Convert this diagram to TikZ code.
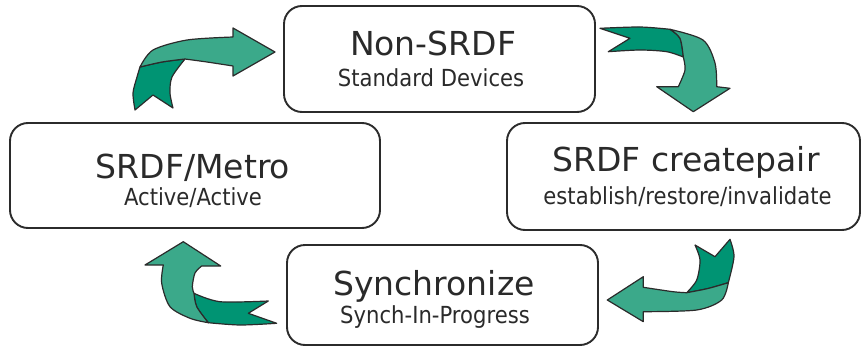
\documentclass[tikz,border=0pt]{standalone}
\usepackage{fontspec}
\setmainfont{DejaVu Sans}
\newfontfamily\subfont[FakeStretch=0.9]{DejaVu Sans}
\definecolor{boxline}{HTML}{2B2B2B}
\definecolor{txt}{HTML}{2A2A2A}
\definecolor{glight}{HTML}{3BA98A}
\definecolor{gdark}{HTML}{009473}
\tikzset{
  statebox/.style={draw=boxline, line width=1.9pt, rounded corners=18pt, fill=white, inner sep=0pt},
  ttl/.style={anchor=base, text=txt, font=\fontsize{33}{36}\selectfont, inner sep=0pt},
  sub/.style={anchor=base, text=txt, font=\subfont\fontsize{23.5}{26}\selectfont, inner sep=0pt},
  lightpart/.style={fill=glight, draw=boxline, line width=1.2pt, line join=round},
  darkpart/.style={fill=gdark, draw=boxline, line width=1.2pt, line join=round}
}
\begin{document}
\begin{tikzpicture}[x=1pt, y=-1pt]
\useasboundingbox (0,0) rectangle (862,348);
% boxes
\draw[statebox] (284,6) rectangle (595,112);
\draw[statebox] (10,123) rectangle (380,228);
\draw[statebox] (507,123) rectangle (860,230);
\draw[statebox] (287,245) rectangle (598,345);
% texts
\node[ttl] (t1) at (433,55.7) {Non-SRDF};
\node[sub] (s1) at (431,86.7) {Standard Devices};
\node[ttl] (t2) at (193,178.3) {SRDF/Metro};
\node[sub] (s2) at (193,205.7) {Active/Active};
\node[ttl] (t3) at (686,171.7) {SRDF createpair};
\node[sub] (s3) at (687.5,204.3) {establish/restore/invalidate};
\node[ttl] (t4) at (434,295) {Synchronize};
\node[sub] (s4) at (435,323.3) {Synch-In-Progress};
% arrow 1 (top left)
\draw[darkpart] (140,67) -- plot[smooth] coordinates {(140,67) (162,62) (185,59)}
  -- plot[smooth] coordinates {(185,59) (172,77) (170,93) (173,108)}
  -- (153,95) -- (135,110)
  -- plot[smooth] coordinates {(135,110) (133,93) (137,77) (140,67)} -- cycle;
\draw[lightpart] (140,67) -- plot[smooth] coordinates {(140,67) (153,50) (187,40) (233,37)}
  -- (233,28) -- (275,52) -- (233,76) -- (233,66)
  -- plot[smooth] coordinates {(233,66) (207,62) (185,59)}
  -- plot[smooth] coordinates {(185,59) (162,62) (140,67)} -- cycle;
% arrow 2 (top right)
\draw[darkpart] (600,28.3) -- plot[smooth] coordinates {(600,28.3) (640,27) (670,29.3)}
  -- plot[smooth] coordinates {(670,29.3) (680,38.3) (683.3,57)}
  -- plot[smooth] coordinates {(683.3,57) (666.7,51.7) (640,50) (608.3,51.7)}
  -- (630,38.3) -- cycle;
\draw[lightpart] (670,29.3) -- plot[smooth] coordinates {(670,29.3) (703,40) (715,63) (716.7,86.7)}
  -- (730,88.3) -- (693.3,111.7) -- (656.7,86.7) -- (678.3,86.7)
  -- plot[smooth] coordinates {(678.3,86.7) (685,70) (683.3,57)}
  -- plot[smooth] coordinates {(683.3,57) (680,38.3) (670,29.3)} -- cycle;
% arrow 3 (bottom right)
\draw[darkpart] (686.7,292.7) -- plot[smooth] coordinates {(686.7,292.7) (708,288.5) (728.3,282.7)}
  -- plot[smooth] coordinates {(728.3,282.7) (734,256.7) (730,239.3)}
  -- (715,256.7) -- (695,245)
  -- plot[smooth] coordinates {(695,245) (700,260) (696.7,280) (686.7,292.7)} -- cycle;
\draw[lightpart] (643.3,287.3) -- plot[smooth] coordinates {(643.3,287.3) (673,291.7) (686.7,292.7)}
  -- plot[smooth] coordinates {(686.7,292.7) (708,288.5) (728.3,282.7)}
  -- plot[smooth] coordinates {(728.3,282.7) (721.7,300) (696.7,310) (643.3,311.7)}
  -- (643.3,321.7) -- (607.3,300) -- (643.3,276.7) -- cycle;
% arrow 4 (bottom left)
\draw[darkpart] (194,293.3) -- plot[smooth] coordinates {(194,293.3) (220,301.7) (268.3,301)}
  -- (248.3,313.3) -- (276.7,323.3)
  -- plot[smooth] coordinates {(276.7,323.3) (240,325) (208.3,322.7)}
  -- plot[smooth] coordinates {(208.3,322.7) (196.7,306.7) (194,293.3)} -- cycle;
\draw[lightpart] (183.3,241.7) -- (220.7,266) -- (201.7,266)
  -- plot[smooth] coordinates {(201.7,266) (195,273) (192.3,286.7) (194,293.3)}
  -- plot[smooth] coordinates {(194,293.3) (196.7,306.7) (208.3,322.7)}
  -- plot[smooth] coordinates {(208.3,322.7) (190,318.3) (170,306.7) (161.7,283.3) (163.3,265)}
  -- (145,265) -- cycle;
\end{tikzpicture}
\end{document}
